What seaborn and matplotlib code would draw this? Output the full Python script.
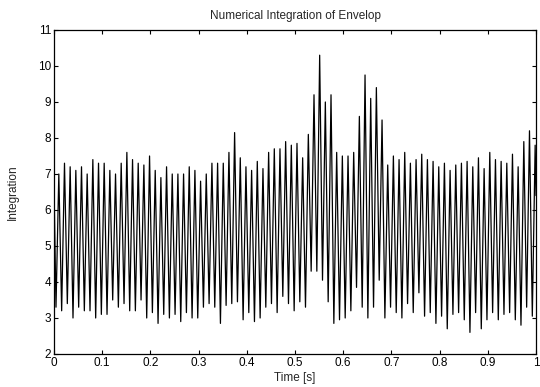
import numpy as np
import pandas as pd
import matplotlib
matplotlib.use("Agg")
import matplotlib.pyplot as plt
import seaborn as sns

# Per-cycle peak and trough values (85 cycles over 1 s)
peaks = [
    7.0, 7.3, 7.2, 7.1, 7.2, 7.0, 7.4, 7.3, 7.3, 7.1, 7.0, 7.3, 7.6, 7.4,
    7.3, 7.25, 7.5, 7.1, 6.9, 7.2, 7.0, 7.0, 7.0, 7.2, 7.1, 6.8, 7.0, 7.3,
    7.3, 7.3, 7.6, 8.15, 7.45, 7.2, 7.1, 7.35, 7.15, 7.6, 7.7, 7.7, 7.9, 7.8,
    7.85, 7.45, 8.1, 9.2, 10.3, 9.0, 9.2, 7.6, 7.5, 7.5, 7.6, 8.6, 9.75, 9.1, 9.4,
    8.5, 7.25, 7.5, 7.4, 7.6, 7.3, 7.4, 7.55, 7.4, 7.35, 7.2, 7.3, 7.1, 7.25,
    7.3, 7.35, 7.2, 7.45, 7.15, 7.6, 7.4, 7.35, 7.3, 7.55, 7.2, 7.9, 8.2, 7.8,
]
troughs = [
    3.3, 3.2, 3.4, 3.0, 3.3, 3.2, 3.2, 3.0, 3.1, 3.1, 3.5, 3.3, 3.4, 3.2,
    3.2, 3.5, 3.0, 3.15, 2.85, 3.1, 3.0, 3.1, 2.9, 3.15, 3.0, 3.0, 3.3, 3.4,
    3.3, 2.85, 3.35, 3.4, 3.45, 2.95, 3.15, 2.9, 3.0, 3.3, 3.4, 3.15, 3.6, 3.4,
    3.2, 3.45, 3.3, 4.3, 4.3, 4.05, 3.45, 2.85, 2.95, 3.0, 3.2, 3.85, 3.3, 3.0, 3.3,
    4.05, 3.0, 3.3, 3.15, 3.0, 3.4, 3.15, 3.7, 3.05, 3.15, 2.85, 3.05, 2.7, 3.1,
    3.15, 2.95, 2.6, 3.15, 2.7, 2.95, 3.15, 2.95, 3.1, 3.15, 2.95, 2.8, 3.3, 3.05,
]
start_value = 6.7
end_value = 6.4
duration = 1.0

x_ticks = [0, 0.1, 0.2, 0.3, 0.4, 0.5, 0.6, 0.7, 0.8, 0.9, 1]
x_tick_labels = ["0", "0.1", "0.2", "0.3", "0.4", "0.5", "0.6", "0.7", "0.8", "0.9", "1"]
y_ticks = [2, 3, 4, 5, 6, 7, 8, 9, 10, 11]

n = len(peaks)
t = [0.0]
v = [start_value]
for k in range(n):
    t.append((k + 0.35) / n * duration)
    v.append(troughs[k])
    t.append((k + 0.85) / n * duration)
    v.append(peaks[k])
t.append(duration)
v.append(end_value)
df = pd.DataFrame({"Time": t, "Integration": v})

sns.set_style("white")
plt.rcParams["font.family"] = ["Liberation Sans", "DejaVu Sans"]

fig = plt.figure(figsize=(5.4, 3.87), dpi=100)
ax = fig.add_axes([0.1, 0.0853, 0.8926, 0.8372])
sns.lineplot(data=df, x="Time", y="Integration", ax=ax, color="black",
             linewidth=0.9, sort=False, estimator=None)

ax.set_xlim(0, 1)
ax.set_ylim(2, 11)
ax.set_xticks(x_ticks)
ax.set_xticklabels(x_tick_labels)
ax.set_yticks(y_ticks)
ax.tick_params(direction="in", length=3, width=0.8, labelsize=8.5,
               top=True, right=True, bottom=True, left=True, pad=2, colors="black")
for s in ax.spines.values():
    s.set_visible(True)
    s.set_color("black")
    s.set_linewidth(0.9)
ax.set_title("Numerical Integration of Envelop", fontsize=8.5, pad=8)
ax.set_xlabel("Time [s]", fontsize=8.5, labelpad=2)
ax.set_ylabel("Integration", fontsize=8.5, labelpad=14)
fig.savefig("out.png", dpi=100, facecolor="white")
